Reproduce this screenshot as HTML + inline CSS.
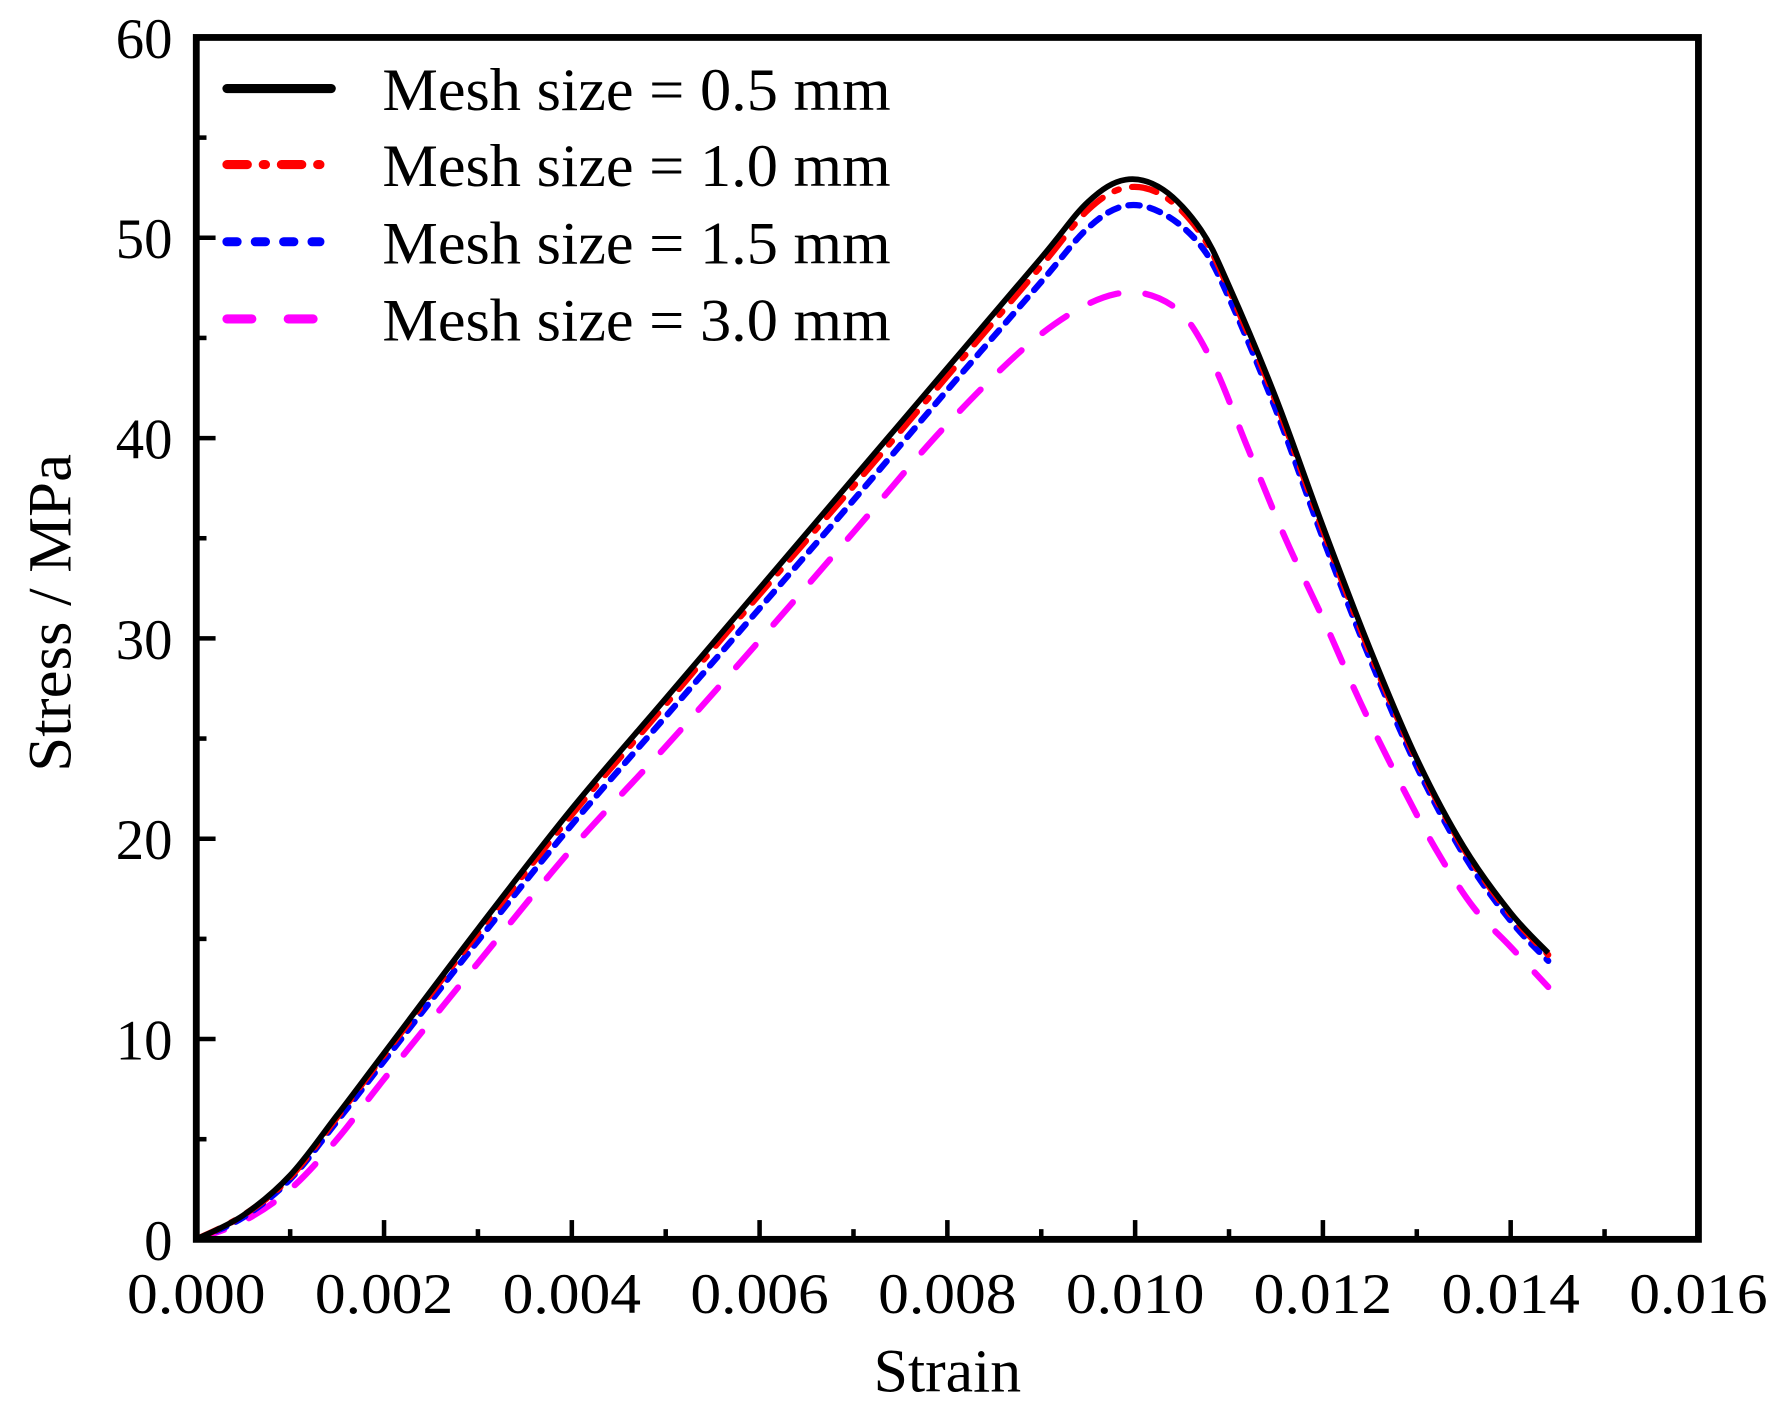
<!DOCTYPE html>
<html><head><meta charset="utf-8"><style>
html,body{margin:0;padding:0;background:#fff;}
svg{display:block;font-family:"Liberation Serif",serif;}
</style></head><body>
<svg id="chart" width="1779" height="1413" viewBox="0 0 1568 1245" preserveAspectRatio="none" xmlns="http://www.w3.org/2000/svg">
<g id="plot"></g>
</svg>
<script>
const xTicks = [0,0.002,0.004,0.006,0.008,0.010,0.012,0.014,0.016];
const xTickLabels = ["0.000","0.002","0.004","0.006","0.008","0.010","0.012","0.014","0.016"];
const yTicks = [0,10,20,30,40,50,60];
const yTickLabels = ["0","10","20","30","40","50","60"];
const seriesNames = ["Mesh size = 0.5 mm","Mesh size = 1.0 mm","Mesh size = 1.5 mm","Mesh size = 3.0 mm"];
const strain05 = [0,0.0005,0.001,0.0015,0.002,0.003,0.004,0.005,0.006,0.007,0.008,0.009,0.0095,0.0099,0.0103,0.0107,0.011,0.0115,0.012,0.0125,0.013,0.0135,0.014,0.0144];
const stress05 = [0,1.2,3.2,6.2,9.3,15.5,21.5,27,32.5,38,43.5,49,51.8,52.9,52.4,50.4,47.6,42,35.6,29.5,24,19.6,16.3,14.3];
const strain10 = [0,0.0005,0.001,0.0015,0.002,0.003,0.004,0.005,0.006,0.007,0.008,0.009,0.0095,0.0099,0.0103,0.0107,0.011,0.0115,0.012,0.0125,0.013,0.0135,0.014,0.0144];
const stress10 = [0,1.2,3.1,6.1,9.2,15.3,21.2,26.7,32.2,37.6,43.1,48.6,51.4,52.5,52.1,50.2,47.4,41.8,35.4,29.3,23.9,19.5,16.2,14.2];
const strain15 = [0,0.0005,0.001,0.0015,0.002,0.003,0.004,0.005,0.006,0.007,0.008,0.009,0.0095,0.0099,0.0103,0.0107,0.011,0.0115,0.012,0.0125,0.013,0.0135,0.014,0.0144];
const stress15 = [0,1.1,3.0,5.9,8.9,14.9,20.7,26.1,31.5,36.9,42.4,47.8,50.5,51.6,51.2,49.6,47.0,41.4,35.0,29.0,23.6,19.2,15.9,13.9];
const strain30 = [0,0.0005,0.001,0.0015,0.002,0.003,0.004,0.005,0.006,0.007,0.008,0.009,0.0098,0.0104,0.0108,0.0112,0.0116,0.012,0.0124,0.0128,0.0132,0.0136,0.014,0.0144];
const stress30 = [0,0.9,2.5,5.0,8.0,13.8,19.5,24.6,29.9,35.3,40.7,45.2,47.2,46.6,44.0,39.5,35.0,31.0,26.8,23.0,19.5,16.6,14.6,12.6];

const X0=173,X1=1497,Y0=1092,Y1=33;
const xs=v=>X0+(v-0)/(0.016)*(X1-X0);
const ys=v=>Y0-(v/60)*(Y0-Y1);
const NS="http://www.w3.org/2000/svg";
const g=document.getElementById('plot');
function mk(tag,attrs,parent){const e=document.createElementNS(NS,tag);for(const k in attrs)e.setAttribute(k,attrs[k]);(parent||g).appendChild(e);return e;}
function smooth(xa,ya){
  const p=xa.map((x,i)=>[xs(x),ys(ya[i])]);
  let d=`M${p[0][0]},${p[0][1]}`;
  for(let i=0;i<p.length-1;i++){
    const a=p[i-1]||p[i],b=p[i],c=p[i+1],e=p[i+2]||c;
    d+=` C${b[0]+(c[0]-a[0])/6},${b[1]+(c[1]-a[1])/6} ${c[0]-(e[0]-b[0])/6},${c[1]-(e[1]-b[1])/6} ${c[0]},${c[1]}`;
  }
  return d;
}
for(let i=0;i<xTicks.length;i++){
  const x=xs(xTicks[i]);
  const t=mk('line',{x1:x,y1:Y0,x2:x,y2:Y0-17,stroke:'#000','stroke-width':4});
  
  
  if(i<xTicks.length-1){const mx=xs((xTicks[i]+xTicks[i+1])/2);
    const m=mk('line',{x1:mx,y1:Y0,x2:mx,y2:Y0-9,stroke:'#000','stroke-width':4});
    
    }
  const l=mk('text',{x:x-61,y:1157,'font-size':50,textLength:122,lengthAdjust:'spacingAndGlyphs'});
  l.textContent=xTickLabels[i];
  
  
}
for(let i=0;i<yTicks.length;i++){
  const y=ys(yTicks[i]);
  const t=mk('line',{x1:X0,y1:y,x2:X0+17,y2:y,stroke:'#000','stroke-width':4});
  
  
  if(i<yTicks.length-1){const my=ys((yTicks[i]+yTicks[i+1])/2);
    const m=mk('line',{x1:X0,y1:my,x2:X0+9,y2:my,stroke:'#000','stroke-width':4});
    
    }
  const l=mk('text',{x:152,y:y+18,'font-size':50,'text-anchor':'end'});
  l.textContent=yTickLabels[i];
  
  
}
const xt=mk('text',{x:770,y:1226,'font-size':54,textLength:130,lengthAdjust:'spacingAndGlyphs'});xt.textContent='Strain';


const yt=mk('text',{x:-140,y:0,'font-size':54,textLength:280,lengthAdjust:'spacingAndGlyphs',transform:'translate(62,540) rotate(-90)'});yt.textContent='Stress / MPa';



const styles=[
 {c:'#000',da:'none'},
 {c:'#ff0000',da:'22 12 4 12'},
 {c:'#0000ff',da:'10 9'},
 {c:'#ff00ff',da:'26 24'}];
const data=[[strain05,stress05],[strain10,stress10],[strain15,stress15],[strain30,stress30]];
const names=['series-0-5mm','series-1-0mm','series-1-5mm','series-3-0mm'];
for(let k=3;k>=0;k--){
  const p=mk('path',{d:smooth(data[k][0],data[k][1]),fill:'none',stroke:styles[k].c,'stroke-width':k==0?5:5.5,'stroke-dasharray':styles[k].da,'stroke-linecap':k==0?'butt':'round'});
  
  
}
const lys=[78,145,213,281];
const legDa=['none','18 14 2 14','9 16','22 32'];
for(let k=0;k<4;k++){
  const ln=mk('line',{x1:200,y1:lys[k],x2:k==2?282:k==3?278:292,y2:lys[k],stroke:styles[k].c,'stroke-width':8,'stroke-linecap':'round','stroke-dasharray':legDa[k]});
  
  
  const tx=mk('text',{x:337,y:lys[k]+19,'font-size':53,textLength:448,lengthAdjust:'spacingAndGlyphs'});tx.textContent=seriesNames[k];
  
  
}
const fr=mk('rect',{x:X0,y:Y1,width:X1-X0,height:Y0-Y1,fill:'none',stroke:'#000','stroke-width':6});


</script>
</body></html>
